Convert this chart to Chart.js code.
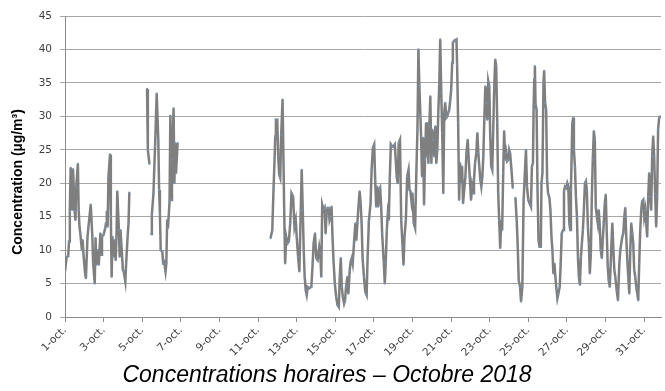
<!DOCTYPE html>
<html>
<head>
<meta charset="utf-8">
<script src="https://cdn.jsdelivr.net/npm/chart.js@4/dist/chart.umd.min.js"></script>
<style>
  html, body { margin: 0; padding: 0; background: #fff; }
</style>
</head>
<body>
<canvas id="chart" width="665" height="391"></canvas>
<script>
// --- Data (hours since 1 Oct 00:00, hourly concentration in µg/m³) ---
const hours = [
  0, 2, 4, 5, 6, 7, 9, 10, 12, 13,
  14, 16, 17, 18, 19, 21, 22, 23, 25, 26,
  28, 29, 32, 34, 35, 37, 38, 39, 41, 42,
  44, 45, 46, 48, 50, 51, 52, 53, 54, 56,
  57, 58, 59, 60, 62, 63, 64, 65, 67, 68,
  69, 70, 72, 73, 75, 76, 78, 79, 80, 90,
  102, 103, 105, 106, 107, 108, 110, 111, 112, 114,
  116, 117, 118, 119, 121, 122, 123, 125, 126, 127,
  128, 130, 131, 132, 133, 135, 136, 137, 138, 140,
  200,
  255.6, 257.7, 259.3, 260.6, 261.4, 262.2, 263.9, 265.1, 266.3, 267.6,
  268.8, 270.5, 271.7, 272.5, 273.7, 275, 276.6, 278.3, 280, 281.6,
  283.6, 285.3, 286.9, 288.1, 289.8, 291.4, 293.1, 294.3, 295.6, 296.8,
  298, 299.3, 300.5, 301.7, 303.8, 306.3, 307.9, 309.1, 310.8, 312.4,
  314.1, 316.1, 317.4, 318.6, 319.8, 321.5, 322.7, 324, 325.2, 326.4,
  327.7, 328.9, 330.1, 331.4, 332.6, 333.8, 335.5, 337.1, 338.8, 340.4,
  341.6, 342.9, 344.1, 345.4, 347, 348.2, 349.4, 351.1, 352.3, 354,
  355.2, 356.5, 357.7, 359.3, 361, 362.2, 363.5, 364.7, 366.3, 367.6,
  368.8, 370, 371.7, 373.3, 375, 376.2, 377.8, 379.9, 381.2, 382.8,
  384.4, 385.7, 386.9, 388.1, 389.4, 390.6, 391.8, 393.1, 394.3, 396.4,
  397.6, 398.8, 400.1, 401.4, 402.6, 403.8, 405.1, 406.7, 408.3, 410,
  411.2, 412.4, 413.7, 414.9, 416.5, 418, 419.7, 420.9, 422.1, 423.8,
  425.4, 427.1, 428.3, 429.5, 430.8, 432, 433.6, 435.3, 436.9, 438.2,
  439.4, 440.6, 441.9, 442.7, 443.9, 445.2, 446.4, 447.6, 448.9, 449.7,
  450.5, 451.8, 453, 454.2, 455.5, 456.7, 457.9, 459.2, 460.4, 461.6,
  462.9, 464.1, 465.3, 466.5, 467.8, 469, 470.3, 471.5, 472.7, 474,
  475.2, 476.4, 477.7, 478.9, 480.1, 481.4, 482.2, 483.8, 485.4, 486.7,
  487.5, 488.8, 490, 491.2, 492.5, 493.7, 494.9, 497.8, 499.1, 500.7,
  502, 503.2, 504.8, 506.1, 507.3, 508.5, 509.8, 511.4, 512.7, 513.9,
  515.1, 516.4, 517.6, 518.9, 520.1, 521.3, 522.6, 523.8, 525, 526.2,
  527.5, 528.7, 529.9, 531.2, 532.4, 533.7, 534.9, 536.1, 537.4, 538.6,
  539.8, 541.1, 542.3, 543.5, 544.8, 546, 547.3, 548.5, 549.7, 551,
  552.2, 553.4, 555.1, 556.7, 558, 560, 561.6, 562.9, 564.1, 565.8,
  567, 568.6, 570.2, 573.1, 574.4, 576, 577.6, 579.3, 580.5, 581.8,
  582.6, 583.4, 584.2, 585, 586.3, 587.5, 588.7, 590, 591.6, 592.4,
  593.6, 594.9, 595.7, 596.9, 598.2, 599.4, 600.6, 602.3, 603.5, 604.8,
  606, 607.2, 608.5, 609.7, 610.9, 612.2, 613.4, 615.1, 616.3, 617.6,
  619.2, 620.4, 621.7, 623.3, 624.5, 625.8, 627, 628.2, 629, 629.9,
  630.7, 631.9, 632.7, 634, 635.2, 636.5, 637.7, 638.9, 640.2, 641.4,
  642.6, 643.9, 645.1, 646.4, 647.6, 648.8, 650.1, 651.3, 652.5, 653.8,
  655, 656.2, 657.5, 658.7, 659.9, 661.2, 662.4, 663.6, 664.9, 666.1,
  667.4, 668.6, 669.8, 671.1, 672.3, 673.5, 674.8, 676, 677.3, 678.5,
  679.7, 680.5, 681.8, 683, 684.2, 685.9, 687.5, 689.2, 690.4, 691.6,
  692.9, 694.1, 695.4, 696.6, 697.8, 699.1, 700.3, 701.6, 702.8, 704,
  705.3, 706.5, 707.7, 709, 710.2, 711.5, 712.7, 713.9, 715.2, 716.4,
  717.6, 718.9, 720.1, 721.4, 722.6, 723.8, 725.1, 726.3, 727.6, 728.8,
  730, 731.3, 732.5, 733.7, 735, 736.2, 737.4, 738.7, 739.9
];

const conc = [
  6.8, 9.0, 9.1, 11.3, 15.8, 22.3, 16, 22.1, 15.8, 14.5,
  19.5, 22.9, 16, 13.5, 12.5, 10, 11.5, 9.3, 6.5, 5.8,
  12, 13.3, 16.8, 12, 8, 5, 11.8, 7.8, 10, 7.8,
  12.5, 9.3, 12, 12.3, 13.3, 14, 15.8, 13.5, 21, 24.3,
  15, 6, 12, 9, 11.5, 8.5, 12, 18.8, 13, 9,
  13, 11, 7, 6.8, 5.3, 8, 12.3, 14, 18.6, null,
  34.1, 25, 22.9, null, 12.4, 15.3, 18.5, 22.3, 25.5, 33.4,
  26.5, 19, 15.5, 10, 9.8, 8, 8.5, 6.8, 8, 14.5,
  13.3, 17.3, 30.1, 17.5, 23.5, 31.2, 20, 26, 21.5, 26,
  null,
  11.8, 13, 19.3, 23.8, 27, 29.5, 29.5, 24, 21.3, 20.8,
  27.3, 32.5, 23, 16, 8, 12, 11, 11.3, 14, 18.5,
  18, 13.5, 14.5, 12, 9, 6.8, 16, 22, 16, 10,
  6, 4, 3.3, 4.5, 4.3, 4.5, 8, 11, 12.5, 8.8,
  8.5, 10.5, 9.5, 6, 16.8, 16, 16.3, 12.5, 15.5, 16.3,
  16.3, 14.5, 15, 16.5, 12, 8.5, 5, 3, 1.8, 1.5,
  6, 8.8, 4.5, 3, 2, 2.5, 4.5, 6, 3.5, 7,
  8.3, 8.8, 8, 11, 14, 11.5, 14, 16.3, 18.8, 17,
  14, 8.8, 6, 3.8, 3.3, 8.8, 14.3, 17, 22, 25.3,
  25.8, 20.3, 16.5, 19.5, 16.5, 19, 19.3, 16.5, 12.5, 8,
  5, 8.3, 13, 15.5, 14.5, 20.8, 25.8, 25.5, 25.5, 25.8,
  23.5, 21, 20, 26, 26.5, 14.5, 10.5, 7.8, 12, 14.5,
  21, 22, 19, 18.8, 17.3, 18.5, 14, 13.3, 22, 28,
  40, 34.5, 30, 27, 21, 26.8, 16.8, 23.5, 29, 24,
  29, 23, 28.5, 33, 23, 28, 26.5, 24, 28.5, 23,
  25, 30.5, 34.8, 41.5, 33.5, 27.5, 18.5, 30.5, 32, 29.8,
  30, 30.5, 31, 32.3, 34, 38, 41, 41.3, 41.4, 41.5,
  37.8, 29, 17.5, 23, 20, 22.5, 17, 21, 24.5, 26.5,
  23.5, 21, 17.5, 19.5, 18.5, 20.5, 23, 24.5, 27.5, 24.5,
  22.5, 20.5, 19.5, 21, 24, 29.5, 34.5, 32, 29.5, 35.3,
  34.5, 27, 22.5, 22, 28, 34.5, 38.5, 37.5, 29, 18.5,
  14.5, 10.3, 14.5, 13, 21.5, 27.8, 23.5, 24.5, 23.3, 23.5,
  25, 24.5, 22, 19.3, null, 17.8, 14.5, 10.5, 5.5, 4.5,
  2.3, 4.5, 17.5, 25, 19.5, 17.5, 17, 16.5, 22.5, 23,
  31, 35.5, 37.5, 31.8, 31, 19, 11.5, 10.5, 10.5, 20,
  21.5, 35, 36.8, 32, 31, 20.5, 18.5, 17.8, 16, 12,
  10, 6.5, 8, 6, 4.3, 2.8, 3.5, 4.5, 8, 12.5,
  13, 18.8, 19.5, 19.3, 20, 19.5, 14, 13, 19, 24,
  29, 29.8, 25, 22.5, 18, 15, 9, 6, 4.8, 9,
  11, 13, 16, 20, 20.3, 19, 13.5, 11, 6.5, 9.5,
  18, 23.5, 27.8, 26.5, 16.5, 15, 14, 16, 13.5, 10,
  8.8, 11.5, 14, 17, 18.3, 13, 7.5, 5.5, 4.5, 8,
  12, 14, 10, 7, 6, 4, 2.5, 8, 10, 11,
  12, 12.5, 15, 16.3, 12, 8.5, 6, 3.5, 10, 14,
  12.5, 11, 7, 6, 4.5, 3.5, 2.5, 8, 13, 16,
  17.3, 17.5, 15, 16, 14, 12, 18, 21.5, 18, 16,
  24, 27, 24, 18.5, 13.5, 18, 28, 29.8, 30
];

// tick labels every 2 days (48 h)
const dayLabels = [
  "1-oct.", "3-oct.", "5-oct.", "7-oct.", "9-oct.", "11-oct.", "13-oct.", "15-oct.",
  "17-oct.", "19-oct.", "21-oct.", "23-oct.", "25-oct.", "27-oct.", "29-oct.", "31-oct."
];

const yTitle = "Concentration (µg/m³)";
const chartTitle = "Concentrations horaires – Octobre 2018";

const points = hours.map((h, i) => ({ x: h, y: conc[i] }));

// axis title + caption drawn by hand (Excel places them a bit off-centre)
const textPlugin = {
  id: "excelText",
  afterDraw(chart) {
    const ctx = chart.ctx;
    ctx.save();
    ctx.fillStyle = "#000";
    ctx.textAlign = "center";
    ctx.textBaseline = "middle";

    ctx.font = 'italic 23px "Liberation Sans", Arial, sans-serif';
    ctx.fillText(chartTitle, 327, 376);

    ctx.translate(18, 182);
    ctx.rotate(-Math.PI / 2);
    ctx.font = 'bold 14px "Liberation Sans", Arial, sans-serif';
    ctx.fillText(yTitle, 0, 0);
    ctx.restore();
  },
};

// --- Chart.js Setup ---
const ctx = document.getElementById("chart");
const chart = new Chart(ctx, {
  type: "line",
  data: {
    datasets: [
      {
        data: points,
        borderColor: "#7f7f7f",
        borderWidth: 2.5,
        pointRadius: 1.1,
        pointBorderWidth: 0,
        pointBackgroundColor: "#7d8fa6",
        spanGaps: false,
        tension: 0,
      },
    ],
  },
  options: {
    responsive: false,
    animation: false,
    layout: { padding: { top: 16, right: 0, left: 0, bottom: 29.6 } },
    plugins: {
      legend: { display: false },
      tooltip: { enabled: false },
      title: { display: false },
    },
    scales: {
      x: {
        type: "linear",
        min: 0,
        max: 741,
        grid: { drawOnChartArea: false, drawTicks: true, tickLength: 5, color: "#8c8c8c" },
        border: { color: "#8c8c8c" },
        ticks: {
          stepSize: 48,
          includeBounds: false,
          autoSkip: false,
          minRotation: 45,
          maxRotation: 45,
          padding: 2,
          color: "#404040",
          font: { family: '"DejaVu Sans", Verdana, sans-serif', size: 10.5 },
          callback: (v) => dayLabels[v / 48] ?? "",
        },
        afterFit: (scale) => { scale.height = 44.4; },
      },
      y: {
        min: 0,
        max: 45,
        grid: { color: "#a8a8a8", tickLength: 5 },
        border: { color: "#8c8c8c" },
        ticks: {
          stepSize: 5,
          padding: 8,
          color: "#404040",
          font: { family: '"DejaVu Sans", Verdana, sans-serif', size: 10.5 },
        },
        afterFit: (scale) => { scale.width = 65; },
      },
    },
  },
  plugins: [textPlugin],
});
</script>
</body>
</html>
